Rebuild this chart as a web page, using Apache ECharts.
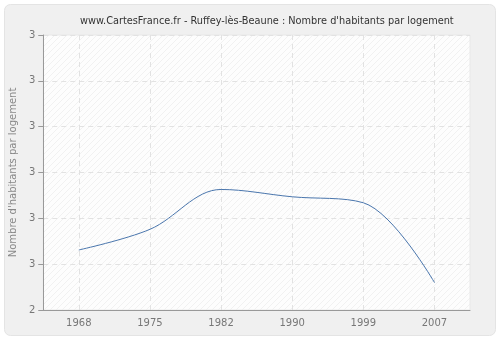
<!DOCTYPE html>
<html><head><meta charset="utf-8">
<script src="https://cdn.jsdelivr.net/npm/echarts@6/dist/echarts.min.js"></script>
<style>html,body{margin:0;padding:0;background:#fff}#c{width:500px;height:340px}</style>
</head><body><div id="c"></div>
<script>
const categories = ['1968','1975','1982','1990','1999','2007'];
const values = [2.531, 2.576, 2.663, 2.647, 2.634, 2.460];
const yTickLabels = ['2','3','3','3','3','3','3'];

const pc = document.createElement('canvas');
pc.width = 6; pc.height = 6;
const g = pc.getContext('2d');
g.fillStyle = '#fdfdfd'; g.fillRect(0,0,6,6);
g.strokeStyle = '#f1f1f1'; g.lineWidth = 1;
g.beginPath(); g.moveTo(0,6); g.lineTo(6,0); g.stroke();
g.beginPath(); g.moveTo(-1,1); g.lineTo(1,-1); g.stroke();
g.beginPath(); g.moveTo(5,7); g.lineTo(7,5); g.stroke();

const chart = echarts.init(document.getElementById('c'), null, {renderer:'canvas'});
chart.setOption({
  animation:false,
  backgroundColor:'#ffffff',
  graphic:[{type:'rect',z:-10,shape:{x:4.5,y:4.5,width:491,height:331,r:6},style:{fill:'#f0f0f0',stroke:'#e4e4e4',lineWidth:1}}],
  title:{text:"www.CartesFrance.fr - Ruffey-lès-Beaune : Nombre d'habitants par logement",left:75,top:11,
    textStyle:{fontFamily:'DejaVu Sans',fontSize:9.75,fontWeight:'normal',color:'#333'}},
  grid:{left:40,right:30,top:35,bottom:30,show:true,backgroundColor:{image:pc,repeat:'repeat'},borderColor:'#e8e8e8',borderWidth:1},
  xAxis:{type:'category',data:categories,boundaryGap:true,
    axisLine:{lineStyle:{color:'#999'}},
    axisTick:{alignWithLabel:true,length:5,lineStyle:{color:'#999'}},
    axisLabel:{color:'#777',fontFamily:'DejaVu Sans',fontSize:10,margin:8},
    splitLine:{show:false}},
  yAxis:{type:'value',min:2.4,max:3.0,interval:0.1,
    name:"Nombre d'habitants par logement",nameLocation:'middle',nameGap:25,
    nameTextStyle:{color:'#888',fontFamily:'DejaVu Sans',fontSize:10},
    axisLine:{show:true,lineStyle:{color:'#999'}},
    axisTick:{show:true,length:5,lineStyle:{color:'#999'}},
    axisLabel:{color:'#777',fontFamily:'DejaVu Sans',fontSize:10,margin:8,formatter:(v,i)=>yTickLabels[i]},
    splitLine:{show:true,lineStyle:{color:'#e2e2e2',type:[5,4]}}},
  series:[{type:'line',data:values,smooth:0.35,showSymbol:false,symbol:'none',
    lineStyle:{color:'#4a76ad',width:1},
    markLine:{silent:true,symbol:'none',label:{show:false},animation:false,z:1,
      lineStyle:{color:'#e2e2e2',type:[5,4],width:1},
      data:categories.map(c=>({xAxis:c}))}}]
});
</script></body></html>
